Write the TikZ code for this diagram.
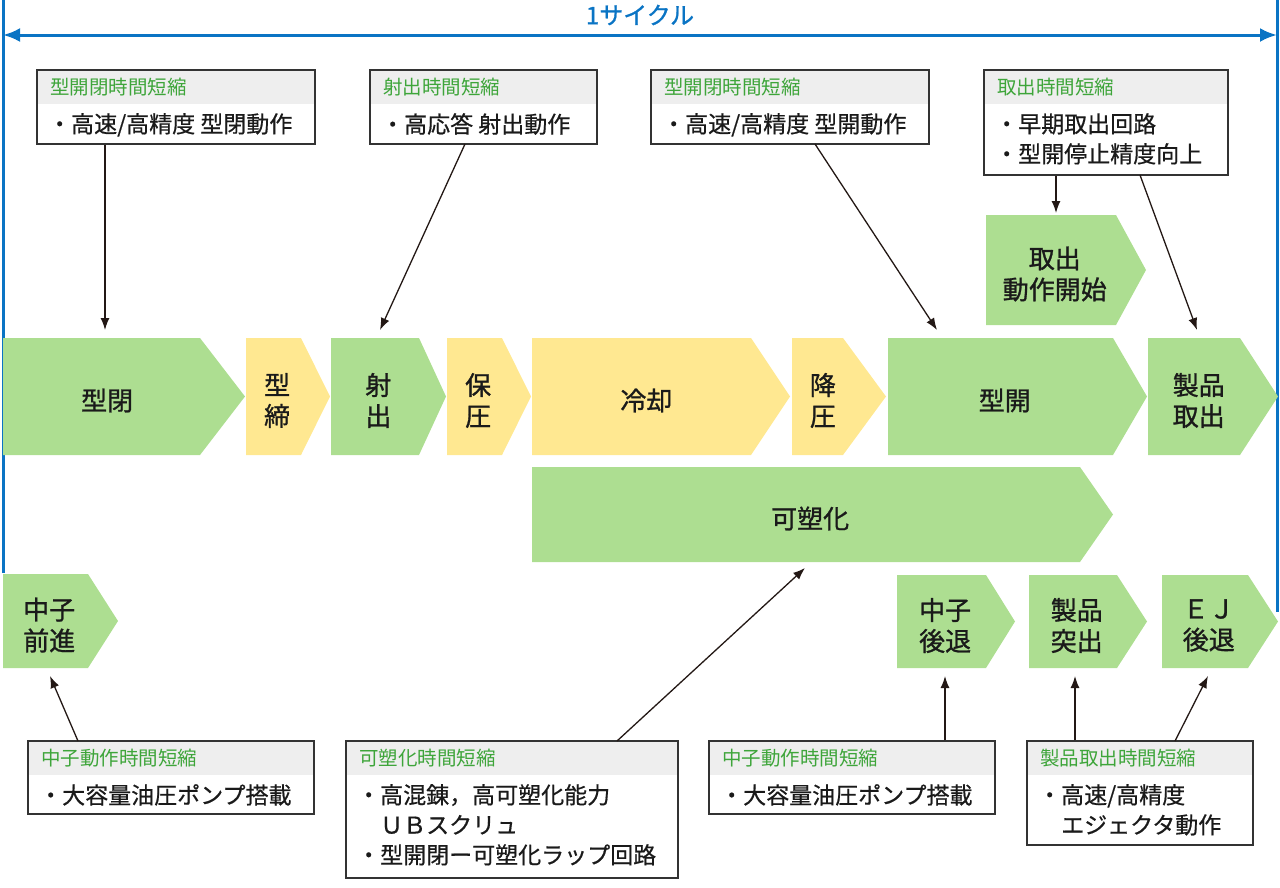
\documentclass[tikz,border=0pt]{standalone}
\usepackage{fontspec}
\setmainfont{Noto Sans CJK JP}
\newfontfamily\medfont{Noto Sans CJK JP}[FakeBold=1.0]
\newfontfamily\semifont{Noto Sans CJK JP}[FakeBold=0.6]
\usetikzlibrary{arrows.meta,fit,calc}
\definecolor{grn}{HTML}{ADDE91}
\definecolor{ylw}{HTML}{FFE891}
\definecolor{blu}{HTML}{0A74C4}
\definecolor{hgrn}{HTML}{3EA53A}
\definecolor{hbg}{HTML}{EEEEEE}
\definecolor{ink}{HTML}{1A1A1A}
\definecolor{arw}{HTML}{231815}
\definecolor{bline}{HTML}{333333}
\newcommand{\chev}[8]{%
  \fill[#7] (#2,#3) -- (#4,#3) -- (#5,{(#3+#6)/2}) -- (#4,#6) -- (#2,#6) -- cycle;
  \node[lbl] (#1) at ({(#2+#4)/2+(#5-#4)/8},{(#3+#6)/2+4}) {#8};
}
\newcommand{\ibox}[7]{%
  \fill[hbg] (#2,#3) rectangle (#4,#3+34);
  \coordinate (#1nw) at (#2,#3);
  \coordinate (#1se) at (#4,#5);
  \node[boxst, fit=(#1nw)(#1se)] (#1) {};
  \node[hdr, anchor=west] (#1h) at (#2+13,#3+17) {#6};
  \node[bdy, anchor=north west] (#1b) at (#2+11,#3+43) {#7};
}
\tikzset{
  lbl/.style={font=\medfont\fontsize{26}{31}\selectfont, text=ink, align=center, inner sep=0pt},
  hdr/.style={font=\fontsize{19.5}{22}\selectfont, text=hgrn, inner sep=0pt},
  bdy/.style={font=\semifont\fontsize{23}{30}\selectfont, text=ink, align=left, inner sep=0pt},
  boxst/.style={draw=bline, line width=1.5pt, inner sep=0pt},
  conn/.style={draw=arw, line width=1.3pt, -{Latex[length=12pt,width=9pt]}},
  cycl/.style={draw=blu, line width=3pt},
}
\begin{document}
\begin{tikzpicture}[x=1pt,y=-1pt]
\useasboundingbox (0,0) rectangle (1280,887);
% cycle marker
\coordinate (ltop) at (3,0);
\coordinate (lbot) at (3,573);
\coordinate (rtop) at (1277,0);
\coordinate (rbot) at (1277,612);
\coordinate (cl) at (3,35);
\coordinate (cr) at (1277,35);
\draw[cycl] (ltop) -- (lbot);
\draw[cycl] (rtop) -- (rbot);
\draw[cycl, {Latex[length=17pt,width=14pt]}-{Latex[length=17pt,width=14pt]}] (cl) -- (cr);
\node[font=\medfont\fontsize{24}{28}\selectfont, text=blu, inner sep=0pt] (cyc) at (640,15) {1サイクル};
% process chevrons
\chev{katatoji}{3}{338}{200}{245}{455}{grn}{型閉}
\chev{katajime}{246}{338}{301}{330}{455}{ylw}{型\\締}
\chev{shashutsu}{331}{338}{419}{446}{455}{grn}{射\\出}
\chev{hoatsu}{447}{338}{502}{531}{455}{ylw}{保\\圧}
\chev{reikyaku}{532}{338}{751}{790}{455}{ylw}{冷却}
\chev{koatsu}{792}{338}{843}{886}{455}{ylw}{降\\圧}
\chev{kataake}{888}{338}{1113}{1147}{455}{grn}{型開}
\chev{seihin}{1148}{338}{1240}{1278}{455}{grn}{製品\\取出}
\chev{kasoka}{532}{467}{1080}{1113}{562}{grn}{可塑化}
\chev{torikaishi}{986}{215}{1116}{1146}{325}{grn}{取出\\動作開始}
\chev{nakazen}{3}{574}{88}{118}{668}{grn}{中子\\前進}
\chev{nakago}{897}{575}{986}{1015}{668}{grn}{中子\\後退}
\chev{tsuki}{1029}{575}{1117}{1147}{668}{grn}{製品\\突出}
\chev{ejgo}{1162}{575}{1248}{1278}{668}{grn}{ＥＪ\\後退}
% info boxes
\ibox{b1}{37}{70}{315}{144}{型開閉時間短縮}{・高速/高精度 型閉動作}
\ibox{b2}{370}{70}{597}{144}{射出時間短縮}{・高応答 射出動作}
\ibox{b3}{651}{70}{929}{144}{型開閉時間短縮}{・高速/高精度 型開動作}
\ibox{b4}{984}{70}{1228}{175}{取出時間短縮}{・早期取出回路\\・型開停止精度向上}
\ibox{c1}{28}{741}{314}{814}{中子動作時間短縮}{・大容量油圧ポンプ搭載}
\ibox{c2}{346}{741}{678}{878}{可塑化時間短縮}{・高混錬，高可塑化能力\\　ＵＢスクリュ\\・型開閉ー可塑化ラップ回路}
\ibox{c3}{709}{741}{995}{814}{中子動作時間短縮}{・大容量油圧ポンプ搭載}
\ibox{c4}{1027}{741}{1253}{845}{製品取出時間短縮}{・高速/高精度\\　エジェクタ動作}
% connector end points
\coordinate (t1) at (105,330);
\coordinate (s2) at (465,144);
\coordinate (t2) at (380,330);
\coordinate (s3) at (815,144);
\coordinate (t3) at (937,330);
\coordinate (t4) at (1056,213);
\coordinate (s5) at (1140,175);
\coordinate (t5) at (1197,330);
\coordinate (s6) at (78,741);
\coordinate (t6) at (50,676);
\coordinate (s7) at (617,741);
\coordinate (t7) at (805,568);
\coordinate (t8) at (945,676);
\coordinate (t9) at (1075,676);
\coordinate (s10) at (1175,741);
\coordinate (t10) at (1208,676);
\draw[conn] (b1.south -| t1) -- (t1);
\draw[conn] (s2) -- (t2);
\draw[conn] (s3) -- (t3);
\draw[conn] (b4.south -| t4) -- (t4);
\draw[conn] (s5) -- (t5);
\draw[conn] (s6) -- (t6);
\draw[conn] (s7) -- (t7);
\draw[conn] (c3.north -| t8) -- (t8);
\draw[conn] (c4.north -| t9) -- (t9);
\draw[conn] (s10) -- (t10);
\end{tikzpicture}
\end{document}
